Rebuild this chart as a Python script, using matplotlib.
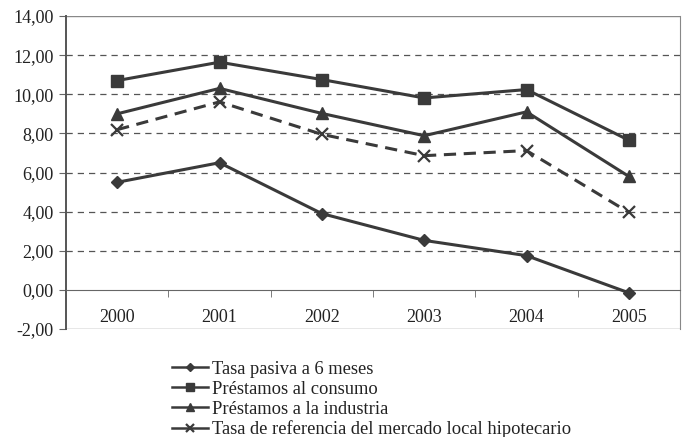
import matplotlib
matplotlib.use("Agg")
import matplotlib.pyplot as plt
from matplotlib.lines import Line2D
from matplotlib.ticker import FuncFormatter, FixedLocator

plt.rcParams['font.family'] = ['Liberation Serif', 'DejaVu Serif']

years = ['2000', '2001', '2002', '2003', '2004', '2005']
tasa_pasiva = [5.50, 6.50, 3.90, 2.53, 1.75, -0.15]
prestamos_consumo = [10.70, 11.64, 10.75, 9.81, 10.24, 7.65]
prestamos_industria = [9.00, 10.30, 9.02, 7.88, 9.10, 5.80]
tasa_hipotecaria = [8.19, 9.61, 7.95, 6.86, 7.12, 3.96]

labels = ['Tasa pasiva a 6 meses', 'Préstamos al consumo',
          'Préstamos a la industria',
          'Tasa de referencia del mercado local hipotecario']

dark = '#3a3a3a'
grid_c = '#555555'

fig = plt.figure(figsize=(6.82, 4.37), dpi=100)
ax = fig.add_axes([0.0968, 0.2471, 0.9003, 0.7163])

x = list(range(len(years)))
series = [
    (tasa_pasiva, dict(marker='D', markersize=6.5, linestyle='-')),
    (prestamos_consumo, dict(marker='s', markersize=8.5, linestyle='-')),
    (prestamos_industria, dict(marker='^', markersize=8.5, linestyle='-')),
    (tasa_hipotecaria, dict(marker='x', markersize=8.5, markeredgewidth=1.6,
                            linestyle=(0, (4, 2.5)))),
]
handles = []
for (vals, st), lab in zip(series, labels):
    ax.plot(x, vals, color=dark, linewidth=2.2, markerfacecolor=dark,
            markeredgecolor=dark, zorder=3, **st)
    hst = {k: v for k, v in st.items() if k not in ('markersize', 'linestyle')}
    handles.append(Line2D([], [], color=dark, linewidth=1.8, linestyle='-',
                          markerfacecolor=dark, markeredgecolor=dark,
                          markersize=st['markersize'] * 0.7, label=lab, **hst))

ax.set_xlim(-0.5, len(years) - 0.5)
ax.set_ylim(-2, 14)

# horizontal dashed grid
for yv in range(2, 14, 2):
    ax.axhline(yv, color=grid_c, linewidth=0.9, linestyle=(0, (5, 4)), zorder=1)
ax.axhline(14, color='#888888', linewidth=1.0, zorder=1)
ax.axhline(-2, color='#888888', linewidth=1.0, zorder=1)

# category axis crossing at zero
ax.spines['bottom'].set_position(('data', 0))
ax.spines['bottom'].set_color('#666666')
ax.spines['top'].set_visible(False)
ax.spines['right'].set_color('#888888')
ax.spines['left'].set_color('#555555')
ax.spines['left'].set_linewidth(1.4)

ax.xaxis.set_major_locator(FixedLocator(x))
ax.set_xticklabels(years)
ax.xaxis.set_minor_locator(FixedLocator([i + 0.5 for i in x[:-1]]))
ax.tick_params(axis='x', which='major', length=0, pad=14, labelsize=13,
               colors='#222222')
ax.tick_params(axis='x', which='minor', length=5, direction='out',
               color='#666666')

ax.set_yticks(range(-2, 15, 2))
ax.yaxis.set_major_formatter(FuncFormatter(lambda v, p: f'{v:.2f}'.replace('.', ',')))
ax.tick_params(axis='y', length=5, direction='out', pad=4, labelsize=13,
               colors='#222222', color='#666666')

fig.legend(handles=handles, loc='upper left', bbox_to_anchor=(0.252, 0.174),
           frameon=False, fontsize=13.3, handlelength=1.95, handletextpad=0.2,
           labelspacing=0.15, borderaxespad=0, borderpad=0,
           labelcolor='#222222')

fig.savefig('out.png', dpi=100, facecolor='white')
